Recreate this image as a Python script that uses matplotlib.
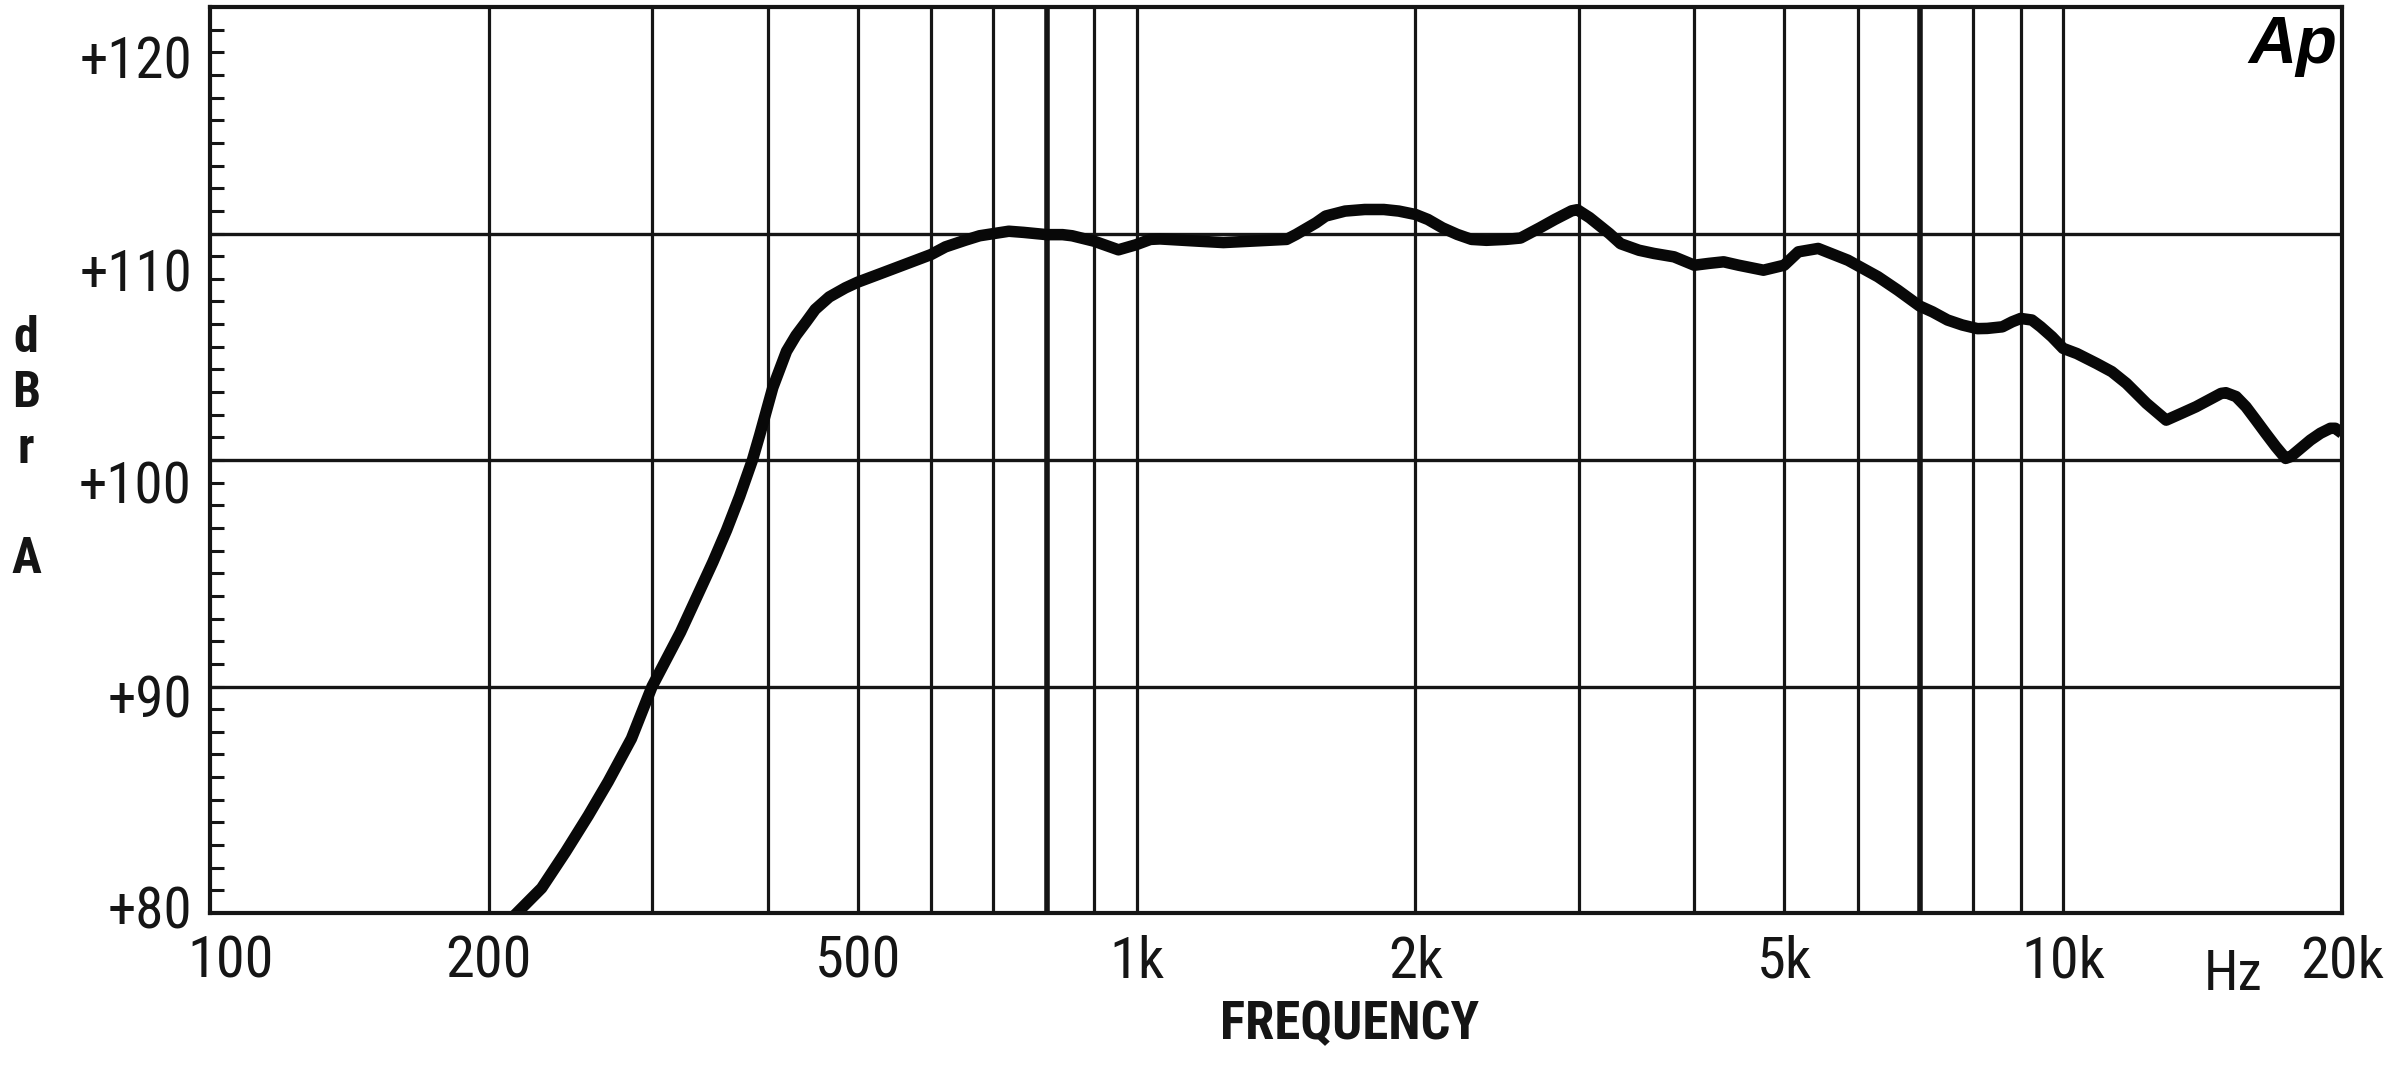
import matplotlib
matplotlib.use("Agg")
import matplotlib.pyplot as plt
from matplotlib.transforms import ScaledTranslation

FAM = ['Roboto Condensed', 'Liberation Sans Narrow', 'Liberation Sans', 'DejaVu Sans']
plt.rcParams['font.family'] = FAM

# ---------------- data ----------------
freq_hz = [212, 228, 242, 256, 269, 285, 300, 322, 349, 361, 373, 385, 392, 405,
           419, 429, 440, 450, 466, 485, 500, 527, 600, 622, 653, 677, 728, 755,
           800, 832, 852, 900, 956, 998, 1035, 1060, 1167, 1241, 1452, 1487, 1562,
           1600, 1679, 1763, 1849, 1919, 2000, 2063, 2139, 2219, 2299, 2386, 2503,
           2597, 2724, 2828, 2948, 2990, 3083, 3238, 3330, 3486, 3617, 3803, 4000,
           4146, 4302, 4465, 4749, 5000, 5179, 5441, 5859, 6313, 6631, 7000, 7230,
           7505, 7785, 8082, 8282, 8599, 8810, 9000, 9255, 9459, 9728, 10000, 10349,
           10870, 11287, 11706, 12303, 12921, 13421, 13915, 14809, 14988, 15371,
           15753, 16151, 16545, 16967, 17386, 17607, 18493, 18955, 19431, 19672,
           20000]
level_dbr = [79.8, 81.1, 82.7, 84.3, 85.8, 87.7, 90.0, 92.4, 95.5, 96.9, 98.4,
             100.0, 101.1, 103.2, 104.8, 105.5, 106.1, 106.65, 107.2, 107.6, 107.85,
             108.2, 109.07, 109.41, 109.7, 109.9, 110.1, 110.05, 109.95, 109.95,
             109.9, 109.66, 109.28, 109.5, 109.74, 109.76, 109.66, 109.6, 109.74,
             109.96, 110.47, 110.77, 110.99, 111.06, 111.06, 110.99, 110.84, 110.62,
             110.25, 109.96, 109.74, 109.7, 109.74, 109.8, 110.25, 110.62, 111.0,
             111.05, 110.7, 110.0, 109.55, 109.26, 109.12, 108.97, 108.6, 108.68,
             108.75, 108.6, 108.38, 108.6, 109.19, 109.34, 108.82, 108.09, 107.5,
             106.8, 106.54, 106.18, 105.96, 105.8, 105.81, 105.88, 106.1, 106.25,
             106.18, 105.88, 105.44, 104.93, 104.7, 104.26, 103.9, 103.38, 102.5,
             101.76, 102.06, 102.35, 102.94, 102.97, 102.8, 102.35, 101.76, 101.18,
             100.59, 100.07, 100.15, 100.88, 101.18, 101.4, 101.4, 101.18]

xtick_vals = [100, 200, 500, 1000, 2000, 5000, 10000, 20000]
xtick_labels = ["100", "200", "500", "1k", "2k", "5k", "10k", "20k"]
ytick_labels = ["+80", "+90", "+100", "+110", "+120"]
ytick_pos = [80.26, 89.6, 99.05, 108.4, 117.8]
grid_freqs = [200, 300, 400, 500, 600, 700, 800, 900, 1000,
              2000, 3000, 4000, 5000, 6000, 7000, 8000, 9000, 10000]
bold_grid_freqs = [800, 7000]
grid_levels = [90, 100, 110]

# ---------------- figure ----------------
fig = plt.figure(figsize=(24, 10.68), dpi=100)
ax = fig.add_axes([0.0875, 0.14513, 0.88833, 0.84831])
ax.set_xscale('log')
ax.set_xlim(100, 20000)
ax.set_ylim(80, 120)

ink = '#151515'
for f in grid_freqs:
    ax.axvline(f, color=ink, lw=4.0 if f in bold_grid_freqs else 2.3, zorder=1)
for lv in grid_levels:
    ax.axhline(lv, color=ink, lw=2.4, zorder=1)

ax.plot(freq_hz, level_dbr, color='#080808', lw=8.3, solid_joinstyle='round',
        solid_capstyle='butt', zorder=3)

for s in ax.spines.values():
    s.set_linewidth(3.0)
    s.set_color(ink)
    s.set_zorder(4)

# x ticks
ax.xaxis.set_minor_locator(matplotlib.ticker.NullLocator())
ax.set_xticks(xtick_vals)
ax.set_xticklabels(xtick_labels)
ax.tick_params(axis='x', which='major', length=0, pad=15.5, labelsize=42, labelcolor=ink)
lab0 = ax.get_xticklabels()[0]
lab0.set_transform(lab0.get_transform() + ScaledTranslation(0.21, 0, fig.dpi_scale_trans))

# y ticks
ax.set_yticks(ytick_pos)
ax.set_yticklabels(ytick_labels)
ax.set_yticks(list(range(81, 120)), minor=True)
ax.tick_params(axis='y', which='major', length=0, pad=13, labelsize=41, labelcolor=ink)
ax.tick_params(axis='y', which='minor', direction='in', length=10, width=2.2,
               color=ink, left=True, right=False)

# texts
fig.text(0.5625, 0.0403, "FREQUENCY", ha='center', va='center', fontsize=38,
         fontweight='bold', color=ink)
fig.text(0.9304, 0.0880, "Hz", ha='center', va='center', fontsize=40, color=ink)
fig.text(0.0108, 0.5795, "d\nB\nr\n\nA", ha='center', va='center', fontsize=36,
         fontweight='bold', linespacing=1.22, color=ink)
fig.text(0.9738, 0.941, "Ap", ha='right', va='baseline', fontsize=48,
         fontweight='heavy', style='italic', color='#000000',
         family=['Liberation Sans', 'DejaVu Sans'])

fig.savefig("out.png", dpi=100, facecolor='white')
